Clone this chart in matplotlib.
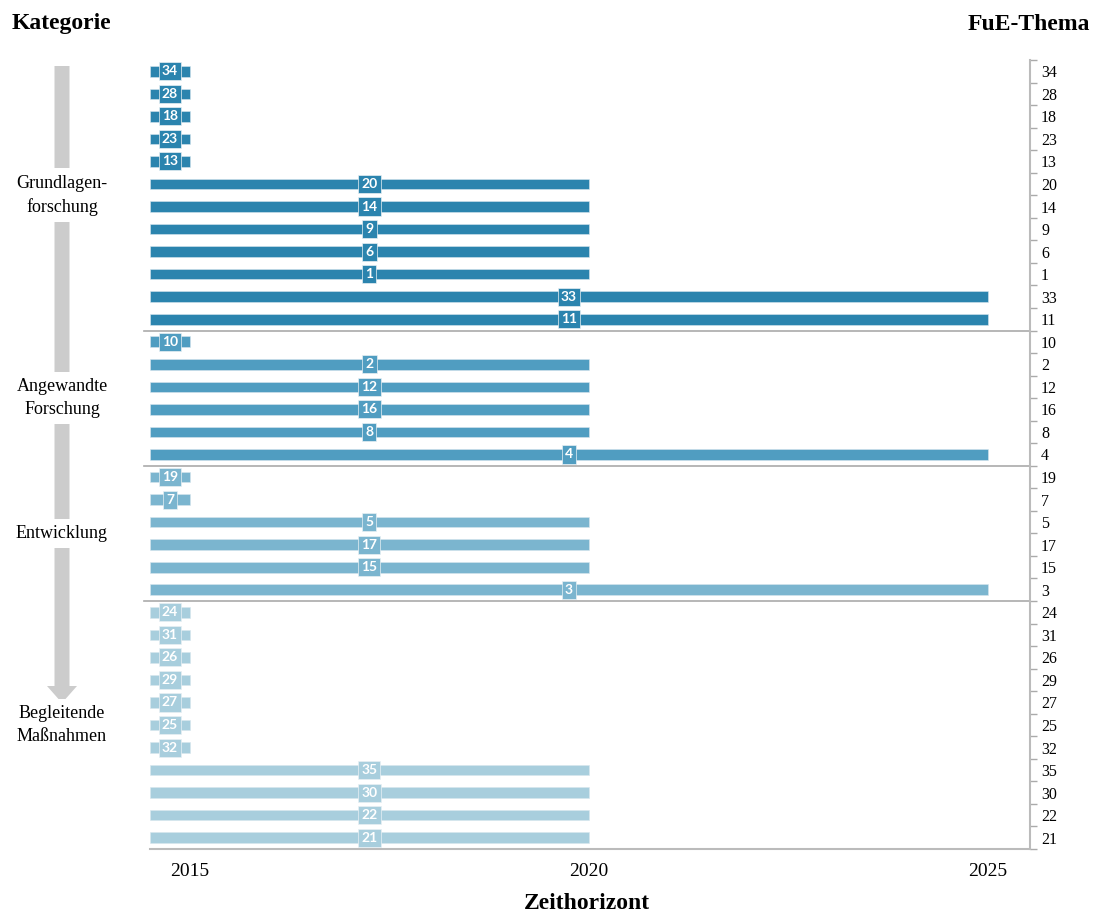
import matplotlib.pyplot as plt
from matplotlib.patches import FancyArrow
from matplotlib.transforms import blended_transform_factory

# topics per category (top to bottom) and the year their bar runs to
grund_topics = [34, 28, 18, 23, 13, 20, 14, 9, 6, 1, 33, 11]
grund_end = [2015, 2015, 2015, 2015, 2015, 2020, 2020, 2020, 2020, 2020, 2025, 2025]
angew_topics = [10, 2, 12, 16, 8, 4]
angew_end = [2015, 2020, 2020, 2020, 2020, 2025]
entw_topics = [19, 7, 5, 17, 15, 3]
entw_end = [2015, 2015, 2020, 2020, 2020, 2025]
begl_topics = [24, 31, 26, 29, 27, 25, 32, 35, 30, 22, 21]
begl_end = [2015, 2015, 2015, 2015, 2015, 2015, 2015, 2020, 2020, 2020, 2020]

categories = ["Grundlagen-\nforschung", "Angewandte\nForschung", "Entwicklung", "Begleitende\nMaßnahmen"]
start_year = 2014.5
year_ticks = [2015, 2020, 2025]

groups = [
    (grund_topics, grund_end, "#2B84AE"),
    (angew_topics, angew_end, "#509DC1"),
    (entw_topics, entw_end, "#7BB5CF"),
    (begl_topics, begl_end, "#A8CEDD"),
]

serif = "Liberation Serif"

fig = plt.figure(figsize=(10.93, 9.13), dpi=100)

# background layer in pixel coordinates for the grey arrow
bg = fig.add_axes([0, 0, 1, 1])
bg.set_xlim(0, 1093)
bg.set_ylim(913, 0)
bg.axis("off")
bg.add_patch(FancyArrow(62, 66, 0, 637, width=15, head_width=30, head_length=17,
                        length_includes_head=True, color="#CCCCCC", lw=0))

ax = fig.add_axes([150 / 1093, 1 - 849 / 913, 880 / 1093, 789 / 913])
ax.patch.set_alpha(0)

row = 0
labels = []
bounds = []
centers = []
for topics, ends, color in groups:
    first = row
    for t, e in zip(topics, ends):
        ax.barh(row, e - start_year, left=start_year, height=0.47, color=color,
                edgecolor="#d8e6ee", linewidth=0.4, zorder=2)
        mid = (start_year + e) / 2
        ax.text(mid, row, str(t), ha="center", va="center", color="white",
                fontsize=10, fontweight="bold", family="Lato", zorder=3,
                bbox=dict(boxstyle="square,pad=0.22", fc=color, ec="#e8f0f4", lw=0.5))
        labels.append(str(t))
        row += 1
    centers.append((first + row - 1) / 2)
    bounds.append(row - 0.5)

for b in bounds[:-1]:
    ax.axhline(b, xmin=-0.007, xmax=1, color="#AAAAAA", lw=1.2, clip_on=False, zorder=1)

ax.set_xlim(start_year, 2025.53)
ax.set_ylim(row - 0.5, -0.5)

for s in ["left", "top"]:
    ax.spines[s].set_visible(False)
for s in ["right", "bottom"]:
    ax.spines[s].set_color("#BBBBBB")
    ax.spines[s].set_linewidth(1.5)

ax.set_xticks(year_ticks)
ax.set_xticklabels([str(y) for y in year_ticks], family=serif, fontsize=14)
ax.tick_params(axis="x", length=0, pad=10)

ax.yaxis.tick_right()
ax.set_yticks(range(row))
ax.set_yticklabels(labels, family=serif, fontsize=11.5)
ax.set_yticks([i + 0.5 for i in range(-1, row)], minor=True)
ax.tick_params(axis="y", which="major", length=0, pad=8)
ax.tick_params(axis="y", which="minor", length=5, color="#AAAAAA", width=1)

# category labels on the left, centred on their group rows
tr = blended_transform_factory(fig.transFigure, ax.transData)
for name, c in zip(categories, centers):
    ax.text(62 / 1093, c, name, transform=tr, ha="center", va="center",
            family=serif, fontsize=13, linespacing=1.45, clip_on=False,
            bbox=dict(boxstyle="square,pad=0.35", fc="white", ec="none"))

fig.text(12 / 1093, 1 - 24 / 913, "Kategorie", family=serif, fontsize=17,
         fontweight="bold", ha="left", va="center")
fig.text(1090 / 1093, 1 - 24 / 913, "FuE-Thema", family=serif, fontsize=17,
         fontweight="bold", ha="right", va="center")
fig.text(587 / 1093, 1 - 903 / 913, "Zeithorizont", family=serif, fontsize=17,
         fontweight="bold", ha="center", va="center")

fig.savefig("out.png", dpi=100)
